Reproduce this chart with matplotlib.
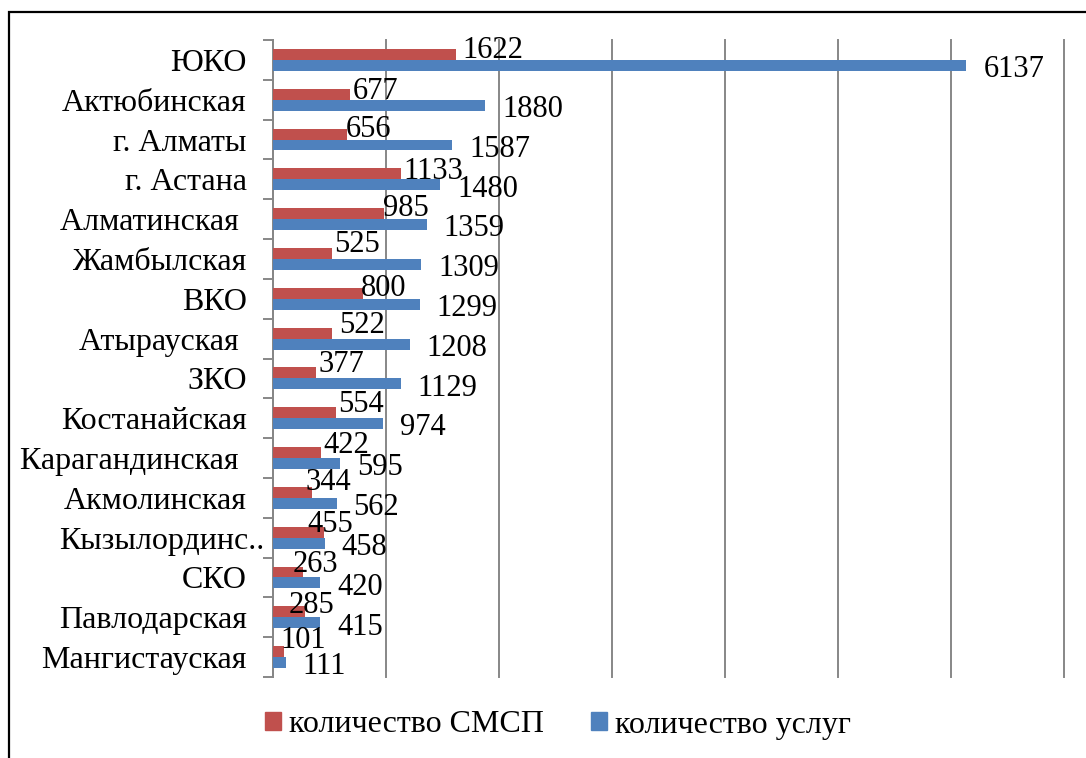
import numpy as np
import matplotlib.pyplot as plt
import matplotlib.transforms as mtrans
from matplotlib.patches import Patch, Rectangle

plt.rcParams['font.family'] = ['Liberation Serif', 'DejaVu Serif']

# data (top to bottom as in the chart)
regions = ['ЮКО', 'Актюбинская', 'г. Алматы', 'г. Астана', 'Алматинская ',
           'Жамбылская', 'ВКО', 'Атырауская ', 'ЗКО', 'Костанайская',
           'Карагандинская ', 'Акмолинская', 'Кызылординс..', 'СКО',
           'Павлодарская', 'Мангистауская']
smsp = [1622, 677, 656, 1133, 985, 525, 800, 522, 377, 554, 422, 344, 455, 263, 285, 101]
services = [6137, 1880, 1587, 1480, 1359, 1309, 1299, 1208, 1129, 974, 595, 562, 458, 420, 415, 111]

series_names = ['количество СМСП', 'количество услуг']
red = '#C0504D'
blue = '#4F81BD'
grid_col = '#878787'

# hand placed labels of the red series: pixel shift from the bar end / bar centre
red_dx = [6, 3, -1, 2, -1, 2, -3, 7, 3, 3, 3, -6, -17, -10, -17, -4]
red_dy = [-6.7, -6, -7, -5.5, -7.6, -12, -7.7, -10, -11.5, -11.5, -9.5, -13, -10, -10.3, -8.7, -14]

W, H = 1086, 758
fig = plt.figure(figsize=(W / 100, H / 100), dpi=100)
ax = fig.add_axes([273 / W, 1 - 677 / H, (1064 - 273) / W, (677 - 40) / H])

y = np.arange(len(regions))
bh = 0.275
ax.barh(y - bh / 2, smsp, height=bh, color=red, zorder=3)
ax.barh(y + bh / 2, services, height=bh, color=blue, zorder=3)

px = 0.72  # points per pixel
half_digit = 10.3  # half digit height in px, to put the baseline
for i in range(len(regions)):
    ax.annotate(str(smsp[i]), (smsp[i], y[i] - bh / 2),
                xytext=(red_dx[i] * px, -(red_dy[i] + half_digit) * px),
                textcoords='offset points',
                ha='left', va='baseline', fontsize=22, zorder=5)
    ax.annotate(str(services[i]), (services[i], y[i] + bh / 2),
                xytext=(17 * px, -(1.5 + half_digit) * px), textcoords='offset points',
                ha='left', va='baseline', fontsize=22, zorder=5)

ax.set_xlim(0, 7000)
ax.set_ylim(len(regions) - 0.5, -0.5)
ax.set_xticks(np.arange(0, 7001, 1000))
ax.tick_params(axis='x', length=0, labelbottom=False)
ax.grid(axis='x', color=grid_col, linewidth=1.4, zorder=0)
for gl in ax.get_xgridlines():
    gl.set_clip_on(False)

ax.set_yticks(y)
ax.set_yticklabels(regions, fontsize=23)
ax.set_yticks(np.arange(-0.5, len(regions)), minor=True)
ax.tick_params(axis='y', which='major', length=0, pad=19)
ax.tick_params(axis='y', which='minor', length=7, width=1.4, color=grid_col, direction='out')

# the truncated label runs past the others
lab = ax.get_yticklabels()[12]
lab.set_transform(lab.get_transform() + mtrans.ScaledTranslation(18 / 100, 0, fig.dpi_scale_trans))

for s in ['top', 'right', 'bottom']:
    ax.spines[s].set_visible(False)
ax.spines['left'].set_color(grid_col)
ax.spines['left'].set_linewidth(1.4)

handles = [Patch(color=red, label=series_names[0]), Patch(color=blue, label=series_names[1])]
fig.legend(handles=handles, loc='center', bbox_to_anchor=(558 / W, 1 - 725 / H),
           ncol=2, frameon=False, fontsize=23, handlelength=0.5, handleheight=0.5,
           handletextpad=0.25, columnspacing=1.5)

# outer frame (cut off at the right and bottom)
fig.patches.append(Rectangle((9 / W, -0.1), 1.2, 1 - 12 / H + 0.1, transform=fig.transFigure,
                             fill=False, edgecolor='black', linewidth=1.6))

fig.savefig('out.png', dpi=100)
